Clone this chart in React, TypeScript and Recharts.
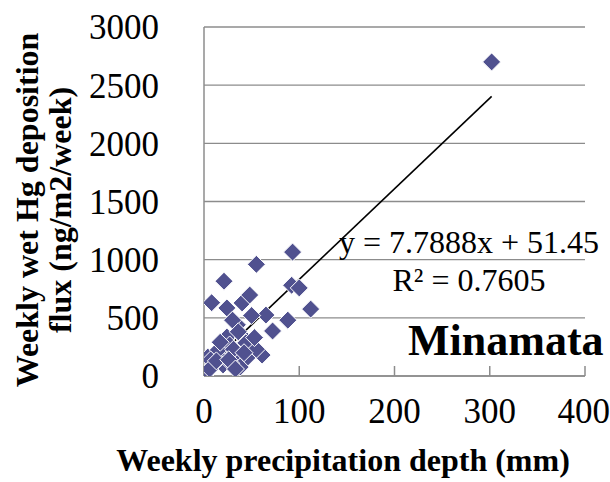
import { ScatterChart, Scatter, XAxis, YAxis, CartesianGrid } from 'recharts';

// Weekly precipitation depth (mm) and weekly wet Hg deposition flux (ng/m2/week)
const precipitation = [
  302, 93, 55, 21, 92, 100, 112, 8, 24, 40, 48, 65, 50, 88, 72, 35, 30, 24, 41,
  19, 50, 44, 27, 61, 45, 34, 14, 38, 20, 1, 4, 10, 28, 55, 36, 15, 7,
  6, 13, 31, 42, 26, 53, 17, 33,
];
const depositionFlux = [
  2700, 1065, 960, 815, 780, 757, 575, 630, 585, 628, 696, 524, 520, 480, 387, 440, 480, 335, 335,
  240, 267, 285, 267, 180, 155, 163, 180, 77, 95, 0, 163, 100, 110, 230, 380, 224, 138,
  60, 130, 230, 200, 140, 330, 290, 60,
];

const xTicks = [0, 100, 200, 300, 400];
const yTicks = [0, 500, 1000, 1500, 2000, 2500, 3000];

// Excel linear trendline
const slope = 7.7888;
const intercept = 51.45;
const rSquared = 0.7605;

const points = precipitation.map((x, i) => ({ x, y: depositionFlux[i] }));
const xMin = Math.min(...precipitation);
const xMax = Math.max(...precipitation);
const trend = [
  { x: xMin, y: slope * xMin + intercept },
  { x: xMax, y: slope * xMax + intercept },
];

const FONT = "'Liberation Serif', 'Times New Roman', serif";
const GREY = '#8c8c8c';
const MARKER = '#50518F';

const Diamond = (props: any) => {
  const { cx, cy } = props;
  const r = 9;
  return (
    <polygon
      points={`${cx},${cy - r} ${cx + r},${cy} ${cx},${cy + r} ${cx - r},${cy}`}
      fill={MARKER}
      stroke="#fff"
      strokeWidth={1}
    />
  );
};

const NoShape = () => null;

const XTexts = () => (
  <g fontFamily={FONT} fill="#000">
    <text x={343} y={471} textAnchor="middle" fontSize={32} fontWeight="bold">
      Weekly precipitation depth (mm)
    </text>
    <text x={469} y={253} textAnchor="middle" fontSize={32}>
      {`y = ${slope}x + ${intercept}`}
    </text>
    <text x={469} y={291} textAnchor="middle" fontSize={32}>
      {`R² = ${rSquared}`}
    </text>
    <text x={408} y={355} fontSize={44} fontWeight="bold">
      Minamata
    </text>
  </g>
);

const YTitle = () => (
  <text
    transform="translate(38, 210) rotate(-90)"
    textAnchor="middle"
    fontFamily={FONT}
    fontSize={32}
    fontWeight="bold"
    fill="#000"
  >
    <tspan x={0} y={0}>Weekly wet Hg deposition</tspan>
    <tspan x={0} y={33}>flux (ng/m2/week)</tspan>
  </text>
);

export default function App() {
  return (
    <div style={{ position: 'absolute', left: 0, top: 0, background: '#fff' }}>
      <ScatterChart
        width={610}
        height={482}
        margin={{ top: 27, right: 25, bottom: 0, left: 0 }}
      >
        <CartesianGrid vertical={false} stroke={GREY} strokeWidth={1.3} />
        <XAxis
          type="number"
          dataKey="x"
          domain={[0, 400]}
          ticks={xTicks}
          height={106}
          stroke={GREY}
          strokeWidth={1.5}
          tickSize={-10}
          tickMargin={32}
          tick={{ fontFamily: FONT, fontSize: 35, fill: '#000' }}
          label={{ content: XTexts }}
          allowDataOverflow
        />
        <YAxis
          type="number"
          dataKey="y"
          domain={[0, 3000]}
          ticks={yTicks}
          width={204}
          stroke={GREY}
          strokeWidth={1.5}
          tickLine={false}
          tickSize={0}
          tickMargin={45}
          tick={{ fontFamily: FONT, fontSize: 35, fill: '#000' }}
          label={{ content: YTitle }}
          allowDataOverflow
        />
        <Scatter
          data={trend}
          line={{ stroke: '#000', strokeWidth: 1.6 }}
          shape={NoShape}
          isAnimationActive={false}
        />
        <Scatter data={points} shape={Diamond} isAnimationActive={false} />
      </ScatterChart>
    </div>
  );
}
